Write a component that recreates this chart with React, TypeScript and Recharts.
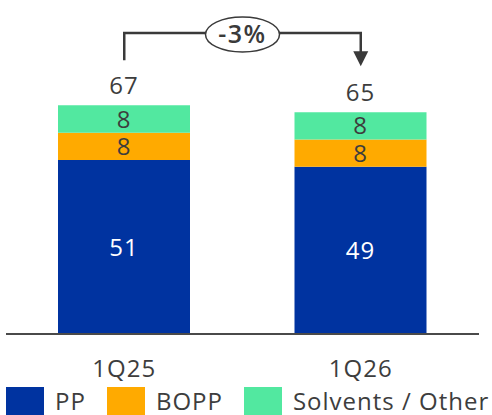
import { BarChart, Bar, XAxis, YAxis, Legend, LabelList } from 'recharts';

// volumes by segment
const categories = ['1Q25', '1Q26'];
const ppValues = [51, 49];
const boppValues = [8, 8];
const otherValues = [8, 8];
const totals = [67, 65];
const changeLabel = '-3%';

const series = [
  { key: 'pp', name: 'PP', color: '#0033A0', labelColor: '#ffffff' },
  { key: 'bopp', name: 'BOPP', color: '#FFAA00', labelColor: '#3d3d3d' },
  { key: 'other', name: 'Solvents / Other', color: '#52E8A0', labelColor: '#3d3d3d' },
];

const data = categories.map((name, i) => ({
  name,
  pp: ppValues[i],
  bopp: boppValues[i],
  other: otherValues[i],
  total: totals[i],
}));

const W = 492;
const H = 415;
const MARGIN = { top: 61, right: 13, left: 6, bottom: 0 };
const X_AXIS_H = 53;
const LEGEND_H = 28;
const Y_MAX = 80;
const FONT = '"Open Sans", sans-serif';
const SPACING = 1;
const TEXT = '#3d3d3d';
const LINE = '#3a3a3a';

const plotW = W - MARGIN.left - MARGIN.right;
const plotH = H - MARGIN.top - MARGIN.bottom - X_AXIS_H - LEGEND_H;
const baseY = MARGIN.top + plotH;
const bandX = (i: number) => MARGIN.left + (plotW * (i + 0.5)) / categories.length;
const valY = (v: number) => baseY - (v / Y_MAX) * plotH;

function CategoryTick({ x, y, payload }: any) {
  return (
    <text
      x={x}
      y={y + 35}
      textAnchor="middle"
      fontSize={24}
      fontFamily={FONT}
      letterSpacing={SPACING}
      fill={TEXT}
    >
      {payload.value}
    </text>
  );
}

function TotalLabel({ x, y, width, index }: any) {
  return (
    <text
      x={x + width / 2}
      y={y - 11}
      textAnchor="middle"
      fontSize={24}
      fontFamily={FONT}
      letterSpacing={SPACING}
      fill={TEXT}
    >
      {totals[index]}
    </text>
  );
}

function LegendContent() {
  return (
    <div
      style={{
        display: 'flex',
        alignItems: 'center',
        height: LEGEND_H,
        paddingLeft: 6,
        fontFamily: FONT,
        fontSize: 24,
        letterSpacing: SPACING,
        color: TEXT,
      }}
    >
      {series.map((s) => (
        <div key={s.key} style={{ display: 'flex', alignItems: 'center', marginRight: 21 }}>
          <span style={{ width: 38, height: LEGEND_H, background: s.color, marginRight: 11 }} />
          <span style={{ lineHeight: `${LEGEND_H}px`, whiteSpace: 'nowrap' }}>{s.name}</span>
        </div>
      ))}
    </div>
  );
}

function ChangeBracket() {
  const x1 = bandX(0);
  const x2 = bandX(1);
  const top = 33;
  const leftEnd = valY(totals[0]) - 45;
  const tip = valY(totals[1]) - 46;
  const cx = (x1 + x2) / 2;
  return (
    <svg
      width={W}
      height={H}
      style={{ position: 'absolute', left: 0, top: 0, pointerEvents: 'none' }}
    >
      <polyline
        points={`${x1},${leftEnd} ${x1},${top} ${x2},${top} ${x2},${tip - 14}`}
        fill="none"
        stroke={LINE}
        strokeWidth={2.5}
      />
      <polygon points={`${x2 - 7.5},${tip - 15} ${x2 + 7.5},${tip - 15} ${x2},${tip}`} fill={LINE} />
      <ellipse cx={cx} cy={top + 1.5} rx={37} ry={17.5} fill="#ffffff" stroke={LINE} strokeWidth={1.5} />
      <text
        x={cx}
        y={top + 10}
        textAnchor="middle"
        fontSize={25}
        fontWeight={600}
        fontFamily={FONT}
        letterSpacing={1.5}
        fill={LINE}
      >
        {changeLabel}
      </text>
    </svg>
  );
}

export default function App() {
  return (
    <div style={{ position: 'absolute', left: 0, top: 0, width: W, height: H, background: '#fff' }}>
      <BarChart width={W} height={H} data={data} margin={MARGIN} barSize={132}>
        <XAxis
          dataKey="name"
          height={X_AXIS_H}
          tickLine={false}
          axisLine={{ stroke: '#4a4a4a', strokeWidth: 2 }}
          tick={<CategoryTick />}
          interval={0}
        />
        <YAxis hide domain={[0, Y_MAX]} />
        <Legend
          verticalAlign="bottom"
          align="left"
          content={<LegendContent />}
          wrapperStyle={{ left: 0, width: W, height: LEGEND_H }}
        />
        {series.map((s, i) => (
          <Bar
            key={s.key}
            dataKey={s.key}
            name={s.name}
            stackId="a"
            fill={s.color}
            isAnimationActive={false}
          >
            <LabelList
              dataKey={s.key}
              position="center"
              fill={s.labelColor}
              fontSize={24}
              fontFamily={FONT}
              letterSpacing={SPACING}
            />
            {i === series.length - 1 && <LabelList dataKey="total" content={<TotalLabel />} />}
          </Bar>
        ))}
      </BarChart>
      <ChangeBracket />
    </div>
  );
}
